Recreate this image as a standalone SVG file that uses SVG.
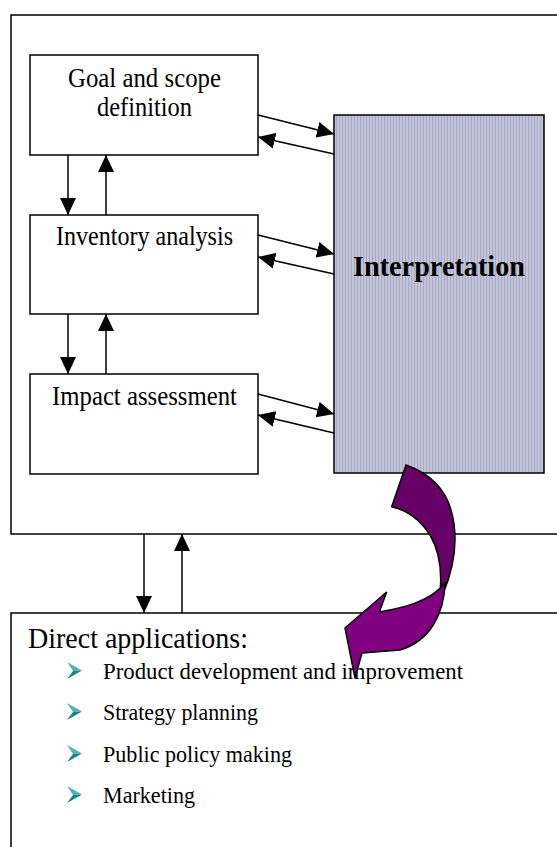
<svg xmlns="http://www.w3.org/2000/svg" width="557" height="847" viewBox="0 0 557 847">
<style>
.box{fill:#fff;stroke:#000;stroke-width:1.5}
.lbl{font-family:"Liberation Serif","Times New Roman",serif;fill:#000}
.con{stroke:#000;stroke-width:1.5;fill:none;marker-end:url(#ah)}
</style>
<defs>
<marker id="ah" markerUnits="userSpaceOnUse" markerWidth="17" markerHeight="16" refX="17" refY="8" orient="auto">
<path d="M0,0 L17,8 L0,16 z" fill="#000"/>
</marker>
<pattern id="stripes" patternUnits="userSpaceOnUse" width="3" height="10">
<rect width="3" height="10" fill="#c3c4da"/>
<rect width="1" height="10" fill="#a9abc6"/>
</pattern>
<g id="bul">
<polygon points="0,0 15,8.5 6,9" fill="#4fb5b0"/>
<polygon points="6,9 15,8.5 0,17" fill="#15857f"/>
</g>
</defs>
<rect width="557" height="847" fill="#fff"/>
<g id="frame"><rect class="box" x="11" y="15" width="560" height="519"/></g>
<g id="goal"><rect class="box" x="30" y="55" width="228" height="100"/>
<text class="lbl" font-size="27" x="144.5" y="87" text-anchor="middle" textLength="153" lengthAdjust="spacingAndGlyphs">Goal and scope</text>
<text class="lbl" font-size="27" x="144.5" y="116" text-anchor="middle" textLength="95" lengthAdjust="spacingAndGlyphs">definition</text></g>
<g id="inventory"><rect class="box" x="30" y="215" width="228" height="99"/>
<text class="lbl" font-size="27" x="144.5" y="245" text-anchor="middle" textLength="177" lengthAdjust="spacingAndGlyphs">Inventory analysis</text></g>
<g id="impact"><rect class="box" x="30" y="374" width="228" height="100"/>
<text class="lbl" font-size="27" x="144.5" y="405" text-anchor="middle" textLength="185" lengthAdjust="spacingAndGlyphs">Impact assessment</text></g>
<g id="interpretation"><rect x="334" y="115" width="210" height="358" fill="url(#stripes)" stroke="#000" stroke-width="1.5"/>
<text class="lbl" font-size="30" font-weight="bold" x="439" y="276" text-anchor="middle" textLength="172" lengthAdjust="spacingAndGlyphs">Interpretation</text></g>
<g id="applications"><rect class="box" x="11" y="613" width="560" height="250"/>
<text class="lbl" font-size="30" x="28" y="648" textLength="220" lengthAdjust="spacingAndGlyphs">Direct applications:</text>
<use href="#bul" x="67" y="662"/>
<text class="lbl" font-size="24" x="103" y="679" textLength="360" lengthAdjust="spacingAndGlyphs">Product development and improvement</text>
<use href="#bul" x="67" y="703"/>
<text class="lbl" font-size="24" x="103" y="720" textLength="155" lengthAdjust="spacingAndGlyphs">Strategy planning</text>
<use href="#bul" x="67" y="745"/>
<text class="lbl" font-size="24" x="103" y="762" textLength="189" lengthAdjust="spacingAndGlyphs">Public policy making</text>
<use href="#bul" x="67" y="786"/>
<text class="lbl" font-size="24" x="103" y="803" textLength="92" lengthAdjust="spacingAndGlyphs">Marketing</text></g>
<g id="connectors">
<line class="con" x1="68" y1="155" x2="68" y2="215"/>
<line class="con" x1="106" y1="215" x2="106" y2="155"/>
<line class="con" x1="68" y1="314" x2="68" y2="374"/>
<line class="con" x1="106" y1="374" x2="106" y2="314"/>
<line class="con" x1="144" y1="534" x2="144" y2="613"/>
<line class="con" x1="182" y1="613" x2="182" y2="534"/>
<line class="con" x1="258" y1="115" x2="334" y2="134"/>
<line class="con" x1="334" y1="154" x2="258" y2="137"/>
<line class="con" x1="258" y1="235" x2="334" y2="254"/>
<line class="con" x1="334" y1="274" x2="258" y2="257"/>
<line class="con" x1="258" y1="394" x2="334" y2="414"/>
<line class="con" x1="334" y1="433" x2="258" y2="415"/>
</g>
<g id="curved-arrow" stroke="#000" stroke-width="1.5" stroke-linejoin="miter">
<path d="M406,465 Q442,478 451,510 Q462,548 443,594 L439,602 Q445,560 430,535 Q415,512 391.7,506.7 Z" fill="#660066"/>
<path d="M445,583 C444,614 430,641 400,650 L362,653 L355,678 L345,628 L386.7,592 L379.3,612 C402,608 430,602 445,583 Z" fill="#800080"/>
</g>
</svg>
